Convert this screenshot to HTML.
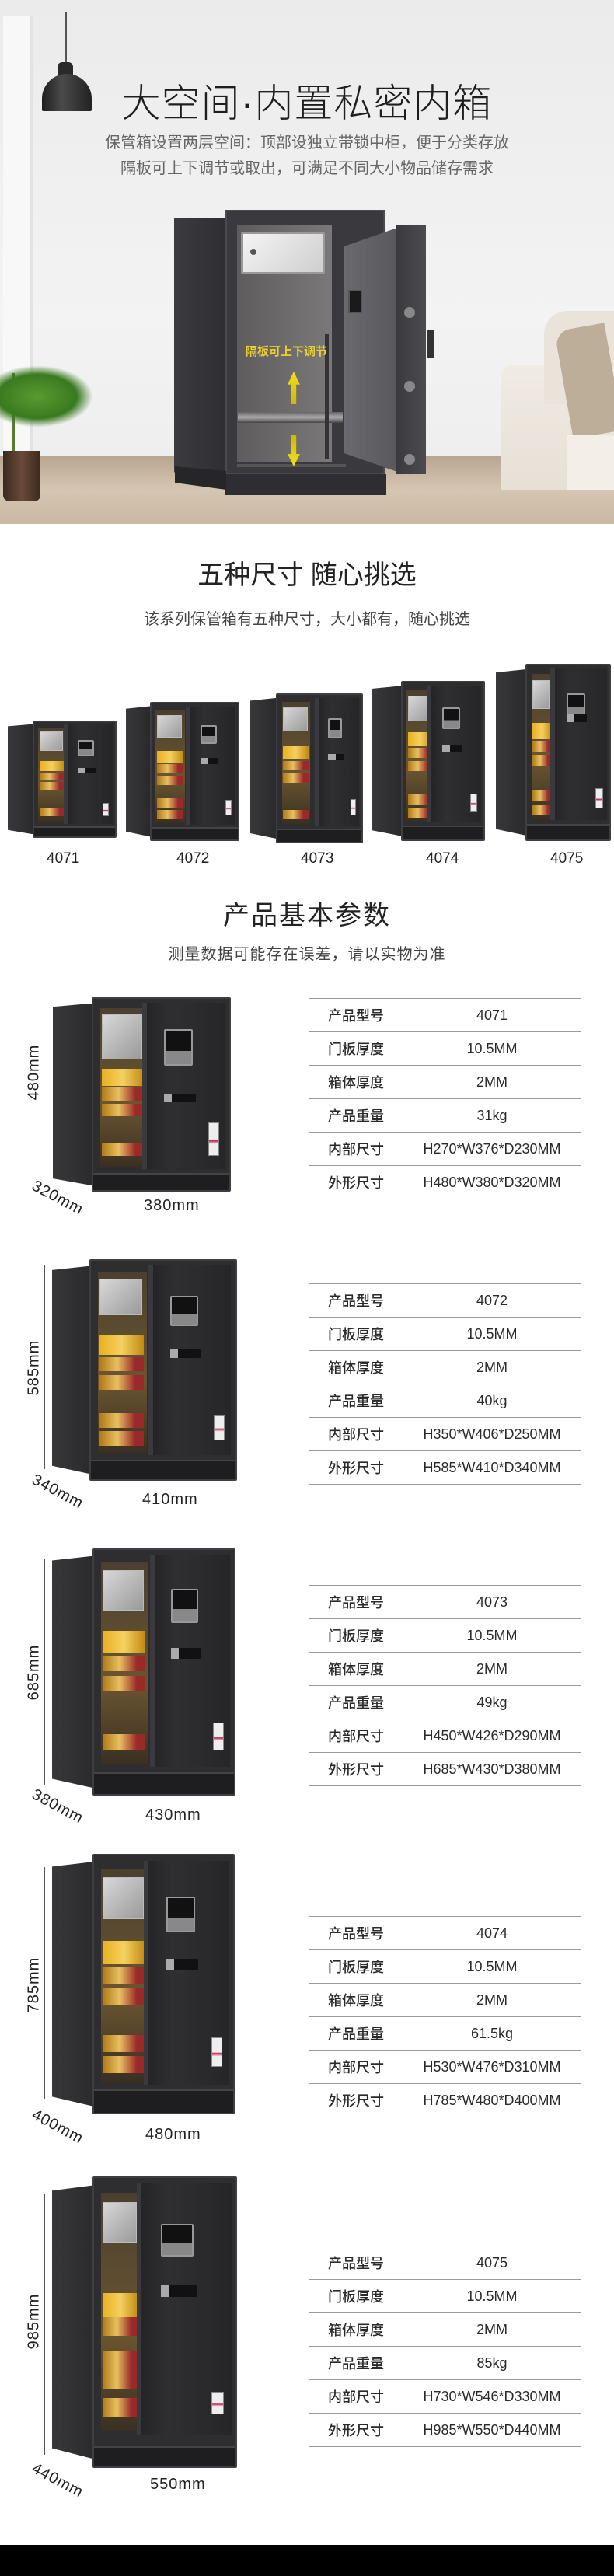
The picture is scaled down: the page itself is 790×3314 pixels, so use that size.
<!DOCTYPE html>
<html><head><meta charset="utf-8">
<style>
*{margin:0;padding:0;box-sizing:border-box}
body{width:790px;height:3314px;position:relative;background:#fff;font-family:"Liberation Sans","Noto Sans CJK SC",sans-serif;overflow:hidden;color:#222}
.a{position:absolute}
.c{position:absolute;left:0;width:790px;text-align:center;white-space:nowrap}
.safe{position:absolute}
.safe .side{position:absolute;left:0;top:3%;bottom:3%;background:linear-gradient(90deg,#38383b,#2a2a2c);clip-path:polygon(0 2%,100% 0,100% 100%,0 96%)}
.safe .front{position:absolute;top:0;right:0;bottom:0;background:#2e2e31;border:2px solid #3e3e42;border-radius:2px}
.safe .base{position:absolute;left:0;right:0;bottom:0;height:9%;background:#1e1e20;border-top:2px solid #444}
.safe .inner{position:absolute;left:5%;width:34%;top:5%;bottom:12%;background:linear-gradient(180deg,#4a4030,#6a5530 60%,#3a3022)}
.safe .box{position:absolute;left:4%;right:10%;top:4%;height:20%;background:linear-gradient(135deg,#d8d8d8,#9a9a9a);border:1px solid #bbb}
.safe .gold{position:absolute;left:4%;right:6%;height:11%;background:linear-gradient(90deg,#e8b020,#f5d060,#c08a10)}
.safe .book{position:absolute;left:4%;right:6%;height:8%;background:linear-gradient(90deg,#b07818,#e8c060 40%,#9a2a2a 80%)}
.safe .door{position:absolute;left:36%;right:3%;top:2%;bottom:11%;background:linear-gradient(90deg,#252527,#2f2f32 30%,#262628);border-left:6px solid #3a3a3e}
.safe .pad{position:absolute;left:22%;width:36%;top:16%;height:16%;background:linear-gradient(180deg,#111 60%,#888 60%);border:2px solid #999;border-radius:2px}
.safe .hdl{position:absolute;left:22%;width:40%;top:44%;height:5%;background:#111;border-left:10px solid #aaa}
.safe .lbl{position:absolute;right:8%;bottom:8%;width:14%;height:13%;background:linear-gradient(180deg,#eee 50%,#c02050 55%,#eee 65%);border:1px solid #888}
table{position:absolute;left:397px;width:351px;border-collapse:collapse;height:258px}
td{border:1.5px solid #9a9a9a;text-align:center;font-size:18px;color:#2a2a2a;height:43px}
td:first-child{width:121px;font-weight:500}
.vl{position:absolute;width:1px;background:#555}
.dim{position:absolute;font-size:20px;color:#222;letter-spacing:1px;white-space:nowrap}
</style></head><body>

<div class="a" style="left:0;top:0;width:790px;height:676px;background:linear-gradient(180deg,#ebebeb,#f3f3f3 60%,#ececec)"></div>
<div class="a" style="left:4px;top:20px;width:38px;height:560px;background:#f8f8f8;border-right:3px solid #e2e2e2"></div>
<div class="a" style="left:0;top:587px;width:790px;height:88px;background:linear-gradient(180deg,#b8a690,#d5c6b3 50%,#c8b8a2)"></div>
<div class="a" style="left:0;top:674px;width:790px;height:6px;background:#fff"></div>
<div class="a" style="left:83px;top:15px;width:3px;height:70px;background:#555"></div>
<div class="a" style="left:74px;top:80px;width:20px;height:18px;background:#2a2a2a;border-radius:6px 6px 0 0"></div>
<div class="a" style="left:54px;top:95px;width:64px;height:48px;background:linear-gradient(90deg,#1e1e1e,#4a4a4a 40%,#222);border-radius:32px 32px 2px 2px"></div>
<div class="a" style="left:15px;top:480px;width:4px;height:110px;background:#5a7a30"></div>
<div class="a" style="left:0;top:470px;width:120px;height:80px;background:radial-gradient(ellipse at 40% 50%,#5a9a30,#3a7a20 50%,transparent 70%)"></div>
<div class="a" style="left:4px;top:580px;width:48px;height:65px;background:linear-gradient(90deg,#3a2a20,#6a4a38,#3a2a20);border-radius:0 0 8px 8px"></div>
<div class="a" style="left:645px;top:470px;width:145px;height:160px;background:linear-gradient(180deg,#f0ebe3,#e6e0d6);border-radius:14px 0 0 0"></div>
<div class="a" style="left:700px;top:400px;width:90px;height:120px;background:#e9e3da;border-radius:30px 0 0 0"></div>
<div class="a" style="left:725px;top:420px;width:65px;height:140px;background:#bcae98;border-radius:20px 0 0 0;transform:rotate(-10deg)"></div>
<div class="a" style="left:730px;top:560px;width:60px;height:70px;background:#f3eee7"></div>
<div class="a" style="left:224px;top:281px;width:68px;height:340px;background:linear-gradient(90deg,#3c3c40,#2e2e32);clip-path:polygon(0 0,100% -3%,100% 100%,0 96%)"></div>
<div class="a" style="left:290px;top:270px;width:205px;height:340px;background:#3a3a3e;border:2px solid #4a4a4e"></div>
<div class="a" style="left:290px;top:610px;width:207px;height:27px;background:#2e2e32"></div>
<div class="a" style="left:225px;top:600px;width:66px;height:30px;background:#262629;clip-path:polygon(0 0,100% 20%,100% 100%,0 70%)"></div>
<div class="a" style="left:305px;top:290px;width:122px;height:305px;background:linear-gradient(90deg,#5e5c5c,#7a7878)"></div>
<div class="a" style="left:310px;top:298px;width:108px;height:55px;background:linear-gradient(135deg,#f4f4f4,#cfcfcf);border:3px solid #999;border-radius:3px"></div>
<div class="a" style="left:322px;top:320px;width:8px;height:8px;border-radius:50%;background:#555"></div>
<div class="a" style="left:305px;top:597px;width:140px;height:4px;background:#555"></div>
<div class="a" style="left:306px;top:530px;width:135px;height:14px;background:linear-gradient(180deg,#666,#aaa,#444)"></div>
<div class="a" style="left:418px;top:430px;width:5px;height:160px;background:#333"></div>
<div class="a" style="left:316px;top:441px;font-size:15px;font-weight:bold;color:#e8d030;white-space:nowrap">隔板可上下调节</div>
<div class="a" style="left:370px;top:478px;width:16px;height:42px;background:linear-gradient(180deg,#f0e020,#d0b800);clip-path:polygon(50% 0,100% 40%,70% 40%,70% 100%,30% 100%,30% 40%,0 40%)"></div>
<div class="a" style="left:370px;top:560px;width:16px;height:40px;background:linear-gradient(0deg,#f0e020,#d0b800);clip-path:polygon(30% 0,70% 0,70% 60%,100% 60%,50% 100%,0 60%,30% 60%)"></div>
<div class="a" style="left:442px;top:292px;width:72px;height:316px;background:linear-gradient(90deg,#6a6a6e,#58585c);clip-path:polygon(0 8%,100% 0,100% 100%,0 92%)"></div>
<div class="a" style="left:448px;top:373px;width:18px;height:30px;background:#1a1a1a;border:2px solid #555"></div>
<div class="a" style="left:510px;top:290px;width:38px;height:320px;background:linear-gradient(90deg,#3a3a3e,#4c4c50)"></div>
<div class="a" style="left:520px;top:395px;width:14px;height:14px;border-radius:50%;background:#888"></div>
<div class="a" style="left:520px;top:490px;width:14px;height:14px;border-radius:50%;background:#888"></div>
<div class="a" style="left:520px;top:584px;width:14px;height:14px;border-radius:50%;background:#888"></div>
<div class="a" style="left:550px;top:424px;width:8px;height:36px;background:#333"></div>
<div class="c" style="top:93px;font-size:50px;font-weight:300;color:#1e1e1e;letter-spacing:1px">大空间·内置私密内箱</div>
<div class="c" style="top:168px;font-size:20px;color:#666;line-height:33px">保管箱设置两层空间：顶部设独立带锁中柜，便于分类存放<br>隔板可上下调节或取出，可满足不同大小物品储存需求</div>

<div class="c" style="top:712px;font-size:34px;color:#222">五种尺寸 随心挑选</div>
<div class="c" style="top:780px;font-size:20px;color:#444">该系列保管箱有五种尺寸，大小都有，随心挑选</div>

<div class="safe" style="left:10px;top:927px;width:140px;height:151px"><div class="side" style="width:24%"></div><div class="front" style="left:23%"><div class="inner"><div class="box"></div><div class="gold" style="top:35%"></div><div class="book" style="top:47%"></div><div class="book" style="top:57%"></div><div class="book" style="top:85%"></div></div><div class="door"><div class="pad"></div><div class="hdl"></div><div class="lbl"></div></div><div class="base"></div></div></div>
<div class="safe" style="left:162px;top:903px;width:146px;height:179px"><div class="side" style="width:22%"></div><div class="front" style="left:21%"><div class="inner"><div class="box"></div><div class="gold" style="top:36%"></div><div class="book" style="top:48%"></div><div class="book" style="top:58%"></div><div class="book" style="top:78%"></div><div class="book" style="top:88%"></div></div><div class="door" style="left:40%"><div class="pad"></div><div class="hdl"></div><div class="lbl"></div></div><div class="base"></div></div></div>
<div class="safe" style="left:322px;top:892px;width:145px;height:193px"><div class="side" style="width:24%"></div><div class="front" style="left:23%"><div class="inner"><div class="box"></div><div class="gold" style="top:36%"></div><div class="book" style="top:48%"></div><div class="book" style="top:58%"></div><div class="book" style="top:88%"></div></div><div class="door" style="left:44%"><div class="pad"></div><div class="hdl"></div><div class="lbl"></div></div><div class="base"></div></div></div>
<div class="safe" style="left:478px;top:876px;width:146px;height:206px"><div class="side" style="width:27%"></div><div class="front" style="left:26%"><div class="inner"><div class="box"></div><div class="gold" style="top:32%"></div><div class="book" style="top:44%"></div><div class="book" style="top:54%"></div><div class="book" style="top:80%"></div><div class="book" style="top:90%"></div></div><div class="door" style="left:30%"><div class="pad"></div><div class="hdl"></div><div class="lbl"></div></div><div class="base"></div></div></div>
<div class="safe" style="left:638px;top:854px;width:148px;height:228px"><div class="side" style="width:27%"></div><div class="front" style="left:26%"><div class="inner" style="width:26%"><div class="box"></div><div class="gold" style="top:34%"></div><div class="book" style="top:46%"></div><div class="book" style="top:56%"></div><div class="book" style="top:80%"></div><div class="book" style="top:90%"></div></div><div class="door" style="left:28%"><div class="pad"></div><div class="hdl" style="top:30%"></div><div class="lbl"></div></div><div class="base"></div></div></div>
<div class="a" style="left:0;top:1094px;width:790px;font-size:19px;color:#222">
<span class="a" style="left:60px">4071</span><span class="a" style="left:227px">4072</span><span class="a" style="left:387px">4073</span><span class="a" style="left:548px">4074</span><span class="a" style="left:708px">4075</span></div>

<div class="c" style="top:1150px;font-size:34px;color:#222;letter-spacing:2px">产品基本参数</div>
<div class="c" style="top:1211px;font-size:20px;color:#444;letter-spacing:1px">测量数据可能存在误差，请以实物为准</div>

<div class="safe" style="left:68px;top:1283px;width:229px;height:250px"><div class="side" style="width:23%"></div><div class="front" style="left:22%"><div class="inner"><div class="box" style="height:28%"></div><div class="gold" style="top:38%"></div><div class="book" style="top:50%"></div><div class="book" style="top:60%"></div><div class="book" style="top:85%"></div></div><div class="door"><div class="pad" style="height:22%"></div><div class="hdl" style="top:55%"></div><div class="lbl" style="height:20%"></div></div><div class="base"></div></div></div>
<div class="vl" style="left:56px;top:1285px;height:225px"></div>
<div class="dim" style="left:8px;top:1368px;transform:rotate(-90deg)">480mm</div>
<div class="dim" style="left:38px;top:1530px;transform:rotate(28deg)">320mm</div>
<div class="dim" style="left:185px;top:1540px">380mm</div>
<table style="top:1284px"><tr><td>产品型号</td><td>4071</td></tr><tr><td>门板厚度</td><td>10.5MM</td></tr><tr><td>箱体厚度</td><td>2MM</td></tr><tr><td>产品重量</td><td>31kg</td></tr><tr><td>内部尺寸</td><td>H270*W376*D230MM</td></tr><tr><td>外形尺寸</td><td>H480*W380*D320MM</td></tr></table>

<div class="safe" style="left:67px;top:1620px;width:238px;height:285px"><div class="side" style="width:21%"></div><div class="front" style="left:20%"><div class="inner"><div class="box"></div><div class="gold" style="top:35%"></div><div class="book" style="top:47%"></div><div class="book" style="top:57%"></div><div class="book" style="top:78%"></div><div class="book" style="top:88%"></div></div><div class="door" style="left:40%"><div class="pad"></div><div class="hdl"></div><div class="lbl"></div></div><div class="base"></div></div></div>
<div class="vl" style="left:57px;top:1628px;height:262px"></div>
<div class="dim" style="left:8px;top:1748px;transform:rotate(-90deg)">585mm</div>
<div class="dim" style="left:38px;top:1908px;transform:rotate(28deg)">340mm</div>
<div class="dim" style="left:183px;top:1918px">410mm</div>
<table style="top:1651px"><tr><td>产品型号</td><td>4072</td></tr><tr><td>门板厚度</td><td>10.5MM</td></tr><tr><td>箱体厚度</td><td>2MM</td></tr><tr><td>产品重量</td><td>40kg</td></tr><tr><td>内部尺寸</td><td>H350*W406*D250MM</td></tr><tr><td>外形尺寸</td><td>H585*W410*D340MM</td></tr></table>

<div class="safe" style="left:67px;top:1992px;width:236px;height:318px"><div class="side" style="width:23%"></div><div class="front" style="left:22%"><div class="inner"><div class="box"></div><div class="gold" style="top:34%"></div><div class="book" style="top:46%"></div><div class="book" style="top:56%"></div><div class="book" style="top:85%"></div></div><div class="door" style="left:40%"><div class="pad"></div><div class="hdl"></div><div class="lbl"></div></div><div class="base"></div></div></div>
<div class="vl" style="left:57px;top:2005px;height:292px"></div>
<div class="dim" style="left:8px;top:2140px;transform:rotate(-90deg)">685mm</div>
<div class="dim" style="left:38px;top:2313px;transform:rotate(28deg)">380mm</div>
<div class="dim" style="left:187px;top:2324px">430mm</div>
<table style="top:2039px"><tr><td>产品型号</td><td>4073</td></tr><tr><td>门板厚度</td><td>10.5MM</td></tr><tr><td>箱体厚度</td><td>2MM</td></tr><tr><td>产品重量</td><td>49kg</td></tr><tr><td>内部尺寸</td><td>H450*W426*D290MM</td></tr><tr><td>外形尺寸</td><td>H685*W430*D380MM</td></tr></table>

<div class="safe" style="left:67px;top:2385px;width:235px;height:335px"><div class="side" style="width:23%"></div><div class="front" style="left:22%"><div class="inner"><div class="box"></div><div class="gold" style="top:34%"></div><div class="book" style="top:46%"></div><div class="book" style="top:56%"></div><div class="book" style="top:78%"></div><div class="book" style="top:88%"></div></div><div class="door" style="left:36%"><div class="pad"></div><div class="hdl"></div><div class="lbl"></div></div><div class="base"></div></div></div>
<div class="vl" style="left:57px;top:2402px;height:298px"></div>
<div class="dim" style="left:8px;top:2542px;transform:rotate(-90deg)">785mm</div>
<div class="dim" style="left:38px;top:2725px;transform:rotate(28deg)">400mm</div>
<div class="dim" style="left:187px;top:2735px">480mm</div>
<table style="top:2465px"><tr><td>产品型号</td><td>4074</td></tr><tr><td>门板厚度</td><td>10.5MM</td></tr><tr><td>箱体厚度</td><td>2MM</td></tr><tr><td>产品重量</td><td>61.5kg</td></tr><tr><td>内部尺寸</td><td>H530*W476*D310MM</td></tr><tr><td>外形尺寸</td><td>H785*W480*D400MM</td></tr></table>

<div class="safe" style="left:67px;top:2800px;width:238px;height:375px"><div class="side" style="width:23%"></div><div class="front" style="left:22%"><div class="inner" style="width:28%"><div class="box" style="height:17%"></div><div class="gold" style="top:42%"></div><div class="book" style="top:52%"></div><div class="book" style="top:66%"></div><div class="book" style="top:74%"></div><div class="book" style="top:86%"></div></div><div class="door" style="left:30%"><div class="pad" style="height:13%"></div><div class="hdl" style="top:40%"></div><div class="lbl" style="height:9%"></div></div><div class="base" style="height:7%"></div></div></div>
<div class="vl" style="left:57px;top:2822px;height:336px"></div>
<div class="dim" style="left:8px;top:2975px;transform:rotate(-90deg)">985mm</div>
<div class="dim" style="left:38px;top:3180px;transform:rotate(28deg)">440mm</div>
<div class="dim" style="left:193px;top:3185px">550mm</div>
<table style="top:2889px"><tr><td>产品型号</td><td>4075</td></tr><tr><td>门板厚度</td><td>10.5MM</td></tr><tr><td>箱体厚度</td><td>2MM</td></tr><tr><td>产品重量</td><td>85kg</td></tr><tr><td>内部尺寸</td><td>H730*W546*D330MM</td></tr><tr><td>外形尺寸</td><td>H985*W550*D440MM</td></tr></table>

<div class="a" style="left:0;top:3274px;width:790px;height:40px;background:#000;overflow:hidden">
<div class="c" style="top:34px;font-size:30px;color:#fff">产品细节</div></div>
</body></html>
